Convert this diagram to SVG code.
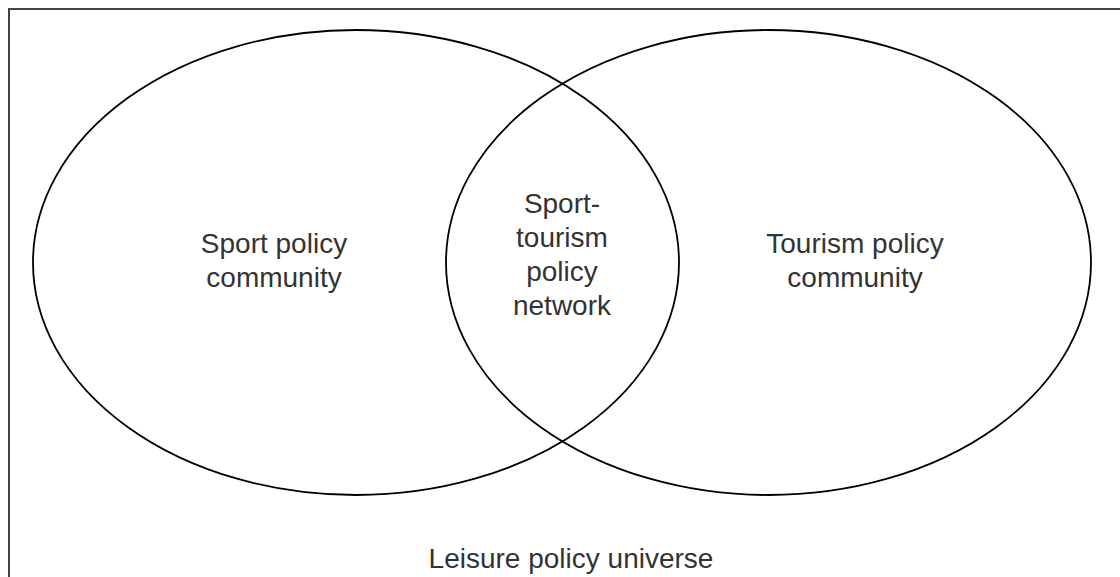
<svg xmlns="http://www.w3.org/2000/svg" width="1120" height="577" viewBox="0 0 1120 577">
<style>
.e{fill:none;stroke:#000;stroke-width:1.8}
.t{font-family:"Liberation Sans",Arial,sans-serif;font-size:28px;fill:#333;text-anchor:middle}
</style>
<rect width="1120" height="577" fill="#fff"/>
<polyline points="9,577 9,9 1120,9" fill="none" stroke="#444" stroke-width="2"/>
<g id="sport">
<ellipse class="e" cx="356" cy="262.5" rx="323" ry="232.5"/>
<text class="t" x="274" y="253">Sport policy</text>
<text class="t" x="274" y="287">community</text>
</g>
<g id="tourism">
<ellipse class="e" cx="768.5" cy="262.5" rx="322.5" ry="232.5"/>
<text class="t" x="855" y="253">Tourism policy</text>
<text class="t" x="855" y="287">community</text>
</g>
<g id="network">
<text class="t" x="562" y="213">Sport-</text>
<text class="t" x="562" y="247">tourism</text>
<text class="t" x="562" y="281">policy</text>
<text class="t" x="562" y="315">network</text>
</g>
<g id="universe">
<text class="t" x="571" y="568">Leisure policy universe</text>
</g>
<g id="connectors"/>
</svg>
